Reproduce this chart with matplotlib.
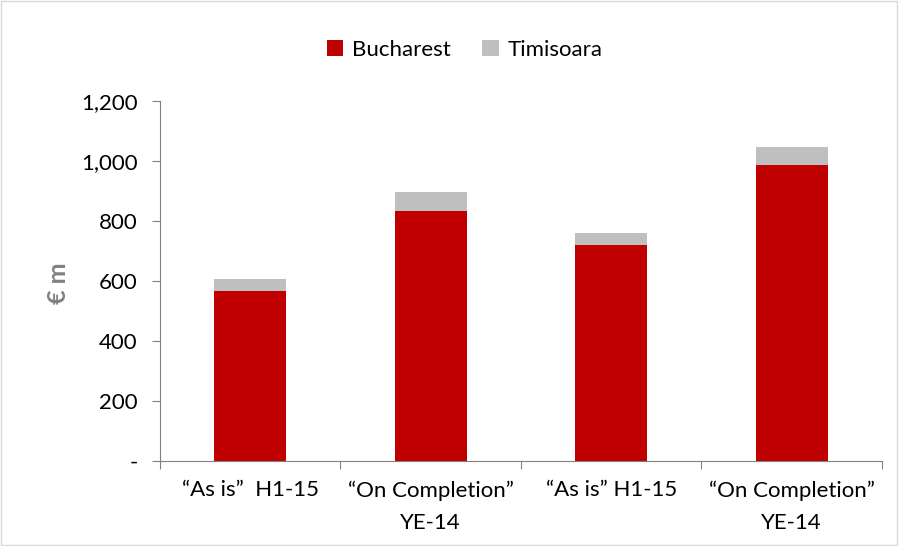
import matplotlib.pyplot as plt
from matplotlib.ticker import FuncFormatter

categories = ["\u201cAs is\u201d  H1-15", "\u201cOn Completion\u201d\nYE-14",
              "\u201cAs is\u201d H1-15", "\u201cOn Completion\u201d\nYE-14"]
bucharest = [567, 832, 719, 985]
timisoara = [38, 64, 40, 62]

plt.rcParams['font.family'] = ['Lato', 'DejaVu Sans']

fig = plt.figure(figsize=(8.99, 5.46), dpi=100)
ax = fig.add_axes([0.178, 0.156, 0.803, 0.659])

x = list(range(len(categories)))
ax.bar(x, bucharest, width=0.4, color="#C00000", label="Bucharest")
ax.bar(x, timisoara, width=0.4, bottom=bucharest, color="#BFBFBF", label="Timisoara")

ax.set_xlim(-0.5, len(categories) - 0.5)
ax.set_ylim(0, 1200)
ax.set_yticks(range(0, 1201, 200))
ax.yaxis.set_major_formatter(FuncFormatter(lambda v, p: "-" if v == 0 else f"{v:,.0f}"))

# category boundaries get the tick marks, labels sit in the middle
ax.set_xticks([i - 0.5 for i in range(len(categories) + 1)])
ax.set_xticklabels([])
ax.set_xticks(x, minor=True)
ax.set_xticklabels(categories, minor=True, fontsize=16, linespacing=1.75)
ax.tick_params(axis="x", which="minor", length=0, pad=14)
ax.tick_params(axis="x", which="major", length=6, color="#808080")
ax.tick_params(axis="y", length=6, color="#808080", labelsize=16, pad=10)

for s in ["top", "right"]:
    ax.spines[s].set_visible(False)
for s in ["left", "bottom"]:
    ax.spines[s].set_color("#808080")

ax.set_ylabel("\u20ac m", fontsize=18, fontweight="bold", color="#808080")
ax.yaxis.set_label_coords(-0.125, 0.494)

ax.legend(loc="center", bbox_to_anchor=(0.422, 1.142), ncol=2, frameon=False,
          fontsize=16, handlelength=0.75, handleheight=0.75, handletextpad=0.4,
          columnspacing=1.4)

fig.patches.append(plt.Rectangle((0.001, 0.001), 0.997, 0.997, transform=fig.transFigure,
                                 fill=False, edgecolor="#D9D9D9", linewidth=1))

fig.savefig("out.png", dpi=100)
